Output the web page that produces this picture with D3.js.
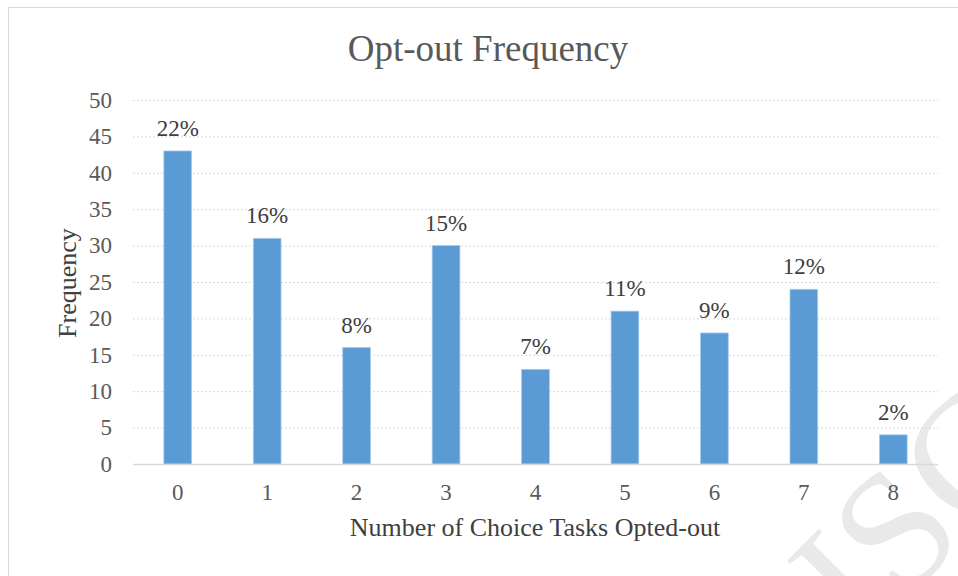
<!DOCTYPE html>
<html>
<head>
<meta charset="utf-8">
<script src="https://cdn.jsdelivr.net/npm/d3@7"></script>
<style>
  body { margin: 0; background: #fff; }
  text { font-family: "Liberation Serif", "Times New Roman", serif; }
</style>
</head>
<body>
<svg width="958" height="576"></svg>
<script>
var categories = ["0", "1", "2", "3", "4", "5", "6", "7", "8"];
var frequency = [43, 31, 16, 30, 13, 21, 18, 24, 4];
var percentLabels = ["22%", "16%", "8%", "15%", "7%", "11%", "9%", "12%", "2%"];
var yTicks = [0, 5, 10, 15, 20, 25, 30, 35, 40, 45, 50];

var svg = d3.select("svg"),
  width = +svg.attr("width"),
  height = +svg.attr("height");

var margin = {left: 133, right: 20, top: 100, bottom: 112};

// faint watermark in the corner (drawn first so it sits behind)
var wm = svg.append("g")
  .attr("transform", "translate(893,528) rotate(-45)");
wm.append("text")
  .attr("x", -104)
  .attr("dy", "0.35em")
  .style("font-size", "170px")
  .style("fill", "#e9e9e9")
  .text("ISC");

// chart frame
svg.append("rect")
  .attr("x", 8.5).attr("y", 7.5)
  .attr("width", 970).attr("height", 600)
  .style("fill", "none")
  .style("stroke", "#d9d9d9");

var x = d3.scaleBand()
  .domain(categories)
  .range([margin.left, width - margin.right])
  .paddingInner(0.69)
  .paddingOuter(0.345);

var y = d3.scaleLinear()
  .domain([0, 50])
  .range([height - margin.bottom, margin.top]);

// gridlines
svg.append("g")
  .selectAll("line")
  .data(yTicks.slice(1))
  .enter().append("line")
  .attr("x1", margin.left)
  .attr("x2", width - margin.right)
  .attr("y1", function(d) { return y(d) + 0.5; })
  .attr("y2", function(d) { return y(d) + 0.5; })
  .style("stroke", "#d9d9d9")
  .style("stroke-dasharray", "2,2");

// y axis labels
var yAxis = svg.append("g")
  .attr("transform", "translate(" + margin.left + ",0)")
  .call(d3.axisLeft(y).tickValues(yTicks).tickSize(0).tickPadding(21));
yAxis.select(".domain").remove();
yAxis.selectAll("text")
  .style("font-family", "Liberation Serif, serif")
  .style("font-size", "23px")
  .style("fill", "#595959");

// bars
svg.append("g")
  .selectAll("rect")
  .data(frequency)
  .enter().append("rect")
  .attr("x", function(d, i) { return x(categories[i]); })
  .attr("y", function(d) { return y(d); })
  .attr("width", x.bandwidth())
  .attr("height", function(d) { return y(0) - y(d); })
  .style("fill", "#5b9bd5")
  .style("stroke", "#a9c9ec")
  .style("stroke-width", 0.75);

// x axis line
svg.append("line")
  .attr("x1", margin.left)
  .attr("x2", width - margin.right)
  .attr("y1", y(0) + 0.5)
  .attr("y2", y(0) + 0.5)
  .style("stroke", "#d9d9d9")
  .style("stroke-width", 1.5);

var xAxis = svg.append("g")
  .attr("transform", "translate(0," + y(0) + ")")
  .call(d3.axisBottom(x).tickSize(0).tickPadding(20));
xAxis.select(".domain").remove();
xAxis.selectAll("text")
  .style("font-family", "Liberation Serif, serif")
  .style("font-size", "23px")
  .style("fill", "#595959");

// data labels
svg.append("g")
  .selectAll("text")
  .data(frequency)
  .enter().append("text")
  .attr("x", function(d, i) { return x(categories[i]) + x.bandwidth() / 2; })
  .attr("y", function(d) { return y(d) - 15; })
  .attr("text-anchor", "middle")
  .style("font-size", "23px")
  .style("fill", "#404040")
  .text(function(d, i) { return percentLabels[i]; });

// title
svg.append("text")
  .attr("x", 488)
  .attr("y", 61)
  .attr("text-anchor", "middle")
  .style("font-size", "37px")
  .style("fill", "#595959")
  .text("Opt-out Frequency");

// axis titles
svg.append("text")
  .attr("x", 535)
  .attr("y", 536)
  .attr("text-anchor", "middle")
  .style("font-size", "26px")
  .style("fill", "#404040")
  .text("Number of Choice Tasks Opted-out");

svg.append("text")
  .attr("transform", "translate(76,283) rotate(-90)")
  .attr("text-anchor", "middle")
  .style("font-size", "26px")
  .style("fill", "#404040")
  .text("Frequency");
</script>
</body>
</html>
